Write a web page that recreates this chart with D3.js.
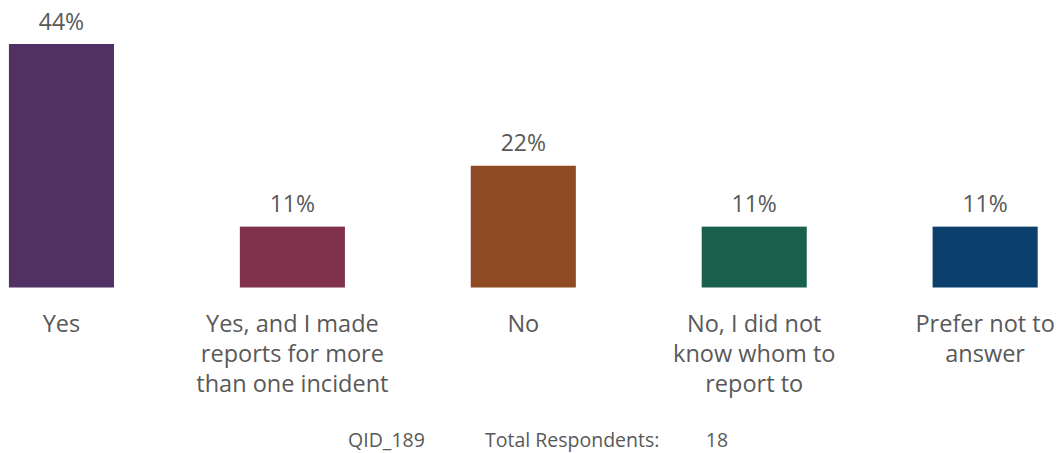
<!DOCTYPE html>
<html>
<head>
<meta charset="utf-8">
<script src="https://cdn.jsdelivr.net/npm/d3@7"></script>
<style>
  html, body { margin: 0; padding: 0; background: #fff; }
  svg { display: block; }
  text { font-family: "Open Sans", sans-serif; fill: #595959; }
</style>
</head>
<body>
<svg id="chart" width="1064" height="453"></svg>
<script>
const categories = [
  "Yes",
  "Yes, and I made\nreports for more\nthan one incident",
  "No",
  "No, I did not\nknow whom to\nreport to",
  "Prefer not to\nanswer"
];
const values = [44, 11, 22, 11, 11];
const valueLabels = ["44%", "11%", "22%", "11%", "11%"];
const colors = ["#513063", "#80314B", "#8E4A22", "#1A614D", "#0C3F6B"];
const footerQid = "QID_189";
const footerTotalLabel = "Total Respondents:";
const footerTotal = "18";

const svg = d3.select("#chart");
const baseline = 287.5;
const x = d3.scaleBand()
  .domain(categories)
  .range([-54, 1100.6])
  .paddingInner(0.545)
  .paddingOuter(0.2725);
const y = d3.scaleLinear().domain([0, 44]).range([baseline, 44]);

const data = categories.map((c, i) => ({ c, v: values[i], label: valueLabels[i], color: colors[i] }));

svg.selectAll("rect.bar").data(data).enter().append("rect")
  .attr("class", "bar")
  .attr("x", d => x(d.c))
  .attr("width", x.bandwidth())
  .attr("y", d => y(d.v))
  .attr("height", d => baseline - y(d.v))
  .attr("fill", d => d.color);

svg.selectAll("text.val").data(data).enter().append("text")
  .attr("class", "val")
  .attr("x", d => x(d.c) + x.bandwidth() / 2)
  .attr("y", d => y(d.v) - 14.5)
  .attr("text-anchor", "middle")
  .style("font-size", "23px")
  .text(d => d.label);

const cat = svg.selectAll("text.cat").data(data).enter().append("text")
  .attr("class", "cat")
  .attr("x", d => x(d.c) + x.bandwidth() / 2)
  .attr("y", 332)
  .attr("text-anchor", "middle")
  .style("font-size", "23.5px");
cat.selectAll("tspan").data(d => d.c.split("\n").map(t => ({ t, x: x(d.c) + x.bandwidth() / 2 })))
  .enter().append("tspan")
  .attr("x", t => t.x)
  .attr("dy", (t, i) => i === 0 ? 0 : 30)
  .text(t => t.t);

const footer = svg.append("g").style("font-size", "19.5px");
footer.append("text").attr("x", 386.5).attr("y", 447).attr("text-anchor", "middle").text(footerQid);
footer.append("text").attr("x", 485).attr("y", 447).text(footerTotalLabel);
footer.append("text").attr("x", 717).attr("y", 447).attr("text-anchor", "middle").text(footerTotal);
</script>
</body>
</html>
